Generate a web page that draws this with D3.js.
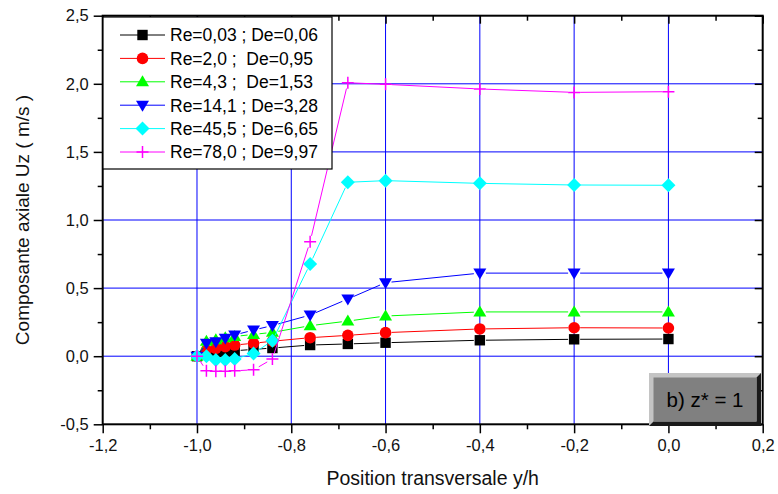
<!DOCTYPE html>
<html>
<head>
<meta charset="utf-8">
<script src="https://cdn.jsdelivr.net/npm/d3@7/dist/d3.min.js"></script>
<style>
  html, body { margin: 0; padding: 0; background: #fff; }
  svg { display: block; font-family: "Liberation Sans", Arial, sans-serif; }
  text { white-space: pre; }
</style>
</head>
<body>
<svg id="chart" width="778" height="494"></svg>
<script>
// Transverse positions y/h where the axial velocity was measured
const positions = [-1.0, -0.98, -0.96, -0.94, -0.92, -0.88, -0.84, -0.76, -0.68, -0.6, -0.4, -0.2, 0.0];

// Axial velocity Uz (m/s) for each flow regime
const uzRe003 = [0, 0.02, 0.03, 0.035, 0.04, 0.05, 0.06, 0.082, 0.09, 0.099, 0.117, 0.124, 0.126];
const uzRe20  = [0, 0.045, 0.058, 0.07, 0.082, 0.095, 0.11, 0.136, 0.153, 0.173, 0.2, 0.209, 0.207];
const uzRe43  = [0, 0.11, 0.12, 0.135, 0.145, 0.16, 0.175, 0.224, 0.258, 0.295, 0.325, 0.325, 0.325];
const uzRe141 = [0, 0.095, 0.107, 0.131, 0.156, 0.192, 0.225, 0.302, 0.42, 0.54, 0.61, 0.61, 0.61];
const uzRe455 = [0, 0.0, -0.028, -0.028, -0.02, 0.02, 0.114, 0.677, 1.277, 1.289, 1.269, 1.257, 1.255];
const uzRe780 = [0, -0.107, -0.11, -0.11, -0.107, -0.1, -0.02, 0.841, 2.008, 1.996, 1.962, 1.937, 1.942];

const seriesLabels = [
  "Re=0,03 ; De=0,06",
  "Re=2,0 ;  De=0,95",
  "Re=4,3 ;  De=1,53",
  "Re=14,1 ; De=3,28",
  "Re=45,5 ; De=6,65",
  "Re=78,0 ; De=9,97"
];
const seriesValues = [uzRe003, uzRe20, uzRe43, uzRe141, uzRe455, uzRe780];
const seriesColors = ["#000000", "#ff0000", "#00ff00", "#0000ff", "#00ffff", "#ff00ff"];
const seriesSymbols = ["square", "circle", "triangleUp", "triangleDown", "diamond", "plus"];

const xTicks = [-1.2, -1.0, -0.8, -0.6, -0.4, -0.2, 0.0, 0.2];
const yTicks = [-0.5, 0.0, 0.5, 1.0, 1.5, 2.0, 2.5];
const xGrid = [-1.0, -0.8, -0.6, -0.4, -0.2, 0.0];
const yGrid = [0.0, 0.5, 1.0, 1.5, 2.0];

const xTitle = "Position transversale y/h";
const yTitle = "Composante axiale Uz ( m/s )";
const panelLabel = "b) z* = 1";

const svg = d3.select("#chart");
const plotL = 102.7, plotR = 762.7, plotT = 15.7, plotB = 424.3;

const x = d3.scaleLinear().domain([-1.2, 0.2]).range([plotL, plotR]);
const y = d3.scaleLinear().domain([-0.5, 2.5]).range([plotB, plotT]);

const fmt = v => d3.format(".1f")(v).replace(".", ",").replace("\u2212", "-");

// grid
const grid = svg.append("g");
grid.selectAll("line.gx").data(xGrid).join("line")
  .attr("x1", d => x(d)).attr("x2", d => x(d))
  .attr("y1", plotT).attr("y2", plotB)
  .attr("stroke", "#0000ff").attr("stroke-width", 1);
grid.selectAll("line.gy").data(yGrid).join("line")
  .attr("x1", plotL).attr("x2", plotR)
  .attr("y1", d => y(d)).attr("y2", d => y(d))
  .attr("stroke", "#0000ff").attr("stroke-width", 1);

// axes with major + minor ticks
const xMinor = d3.range(-1.1, 0.2, 0.2);
const yMinor = d3.range(-0.25, 2.5, 0.5);

const axisStyle = g => {
  g.select(".domain").remove();
  g.selectAll("line").attr("stroke", "#000").attr("stroke-width", 1.5);
  g.selectAll("text").attr("fill", "#111").style("font-size", "16.5px");
};

svg.append("g").attr("transform", `translate(0,${plotB})`)
  .call(d3.axisBottom(x).tickValues(xTicks).tickFormat(fmt).tickSize(9).tickPadding(6))
  .call(axisStyle);
svg.append("g").attr("transform", `translate(0,${plotB})`)
  .call(d3.axisBottom(x).tickValues(xMinor).tickFormat("").tickSize(5))
  .call(axisStyle);
svg.append("g").attr("transform", `translate(${plotL},0)`)
  .call(d3.axisLeft(y).tickValues(yTicks).tickFormat(fmt).tickSize(9).tickPadding(5))
  .call(axisStyle);
svg.append("g").attr("transform", `translate(${plotL},0)`)
  .call(d3.axisLeft(y).tickValues(yMinor).tickFormat("").tickSize(5))
  .call(axisStyle);
// mirrored inner ticks on top and right
svg.append("g").attr("transform", `translate(0,${plotT})`)
  .call(d3.axisBottom(x).tickValues(xTicks).tickFormat("").tickSize(8)).call(axisStyle);
svg.append("g").attr("transform", `translate(0,${plotT})`)
  .call(d3.axisBottom(x).tickValues(xMinor).tickFormat("").tickSize(5)).call(axisStyle);
svg.append("g").attr("transform", `translate(${plotR},0)`)
  .call(d3.axisLeft(y).tickValues(yTicks).tickFormat("").tickSize(8)).call(axisStyle);
svg.append("g").attr("transform", `translate(${plotR},0)`)
  .call(d3.axisLeft(y).tickValues(yMinor).tickFormat("").tickSize(5)).call(axisStyle);

// frame
svg.append("rect")
  .attr("x", plotL).attr("y", plotT)
  .attr("width", plotR - plotL).attr("height", plotB - plotT)
  .attr("fill", "none").attr("stroke", "#000").attr("stroke-width", 2);

// symbol drawing
function drawSymbol(g, kind, cx, cy, color) {
  const s = 5.2;
  if (kind === "square") {
    g.append("rect").attr("x", cx - s).attr("y", cy - s).attr("width", 2 * s).attr("height", 2 * s)
      .attr("fill", color);
  } else if (kind === "circle") {
    g.append("circle").attr("cx", cx).attr("cy", cy).attr("r", s + 0.6).attr("fill", color);
  } else if (kind === "triangleUp") {
    g.append("path").attr("d", `M${cx},${cy - 6.5}L${cx + 6.5},${cy + 4.5}L${cx - 6.5},${cy + 4.5}Z`).attr("fill", color);
  } else if (kind === "triangleDown") {
    g.append("path").attr("d", `M${cx},${cy + 6.5}L${cx + 6.5},${cy - 4.5}L${cx - 6.5},${cy - 4.5}Z`).attr("fill", color);
  } else if (kind === "diamond") {
    g.append("path").attr("d", `M${cx},${cy - 7}L${cx + 7},${cy}L${cx},${cy + 7}L${cx - 7},${cy}Z`).attr("fill", color);
  } else if (kind === "plus") {
    g.append("path").attr("d", `M${cx - 6},${cy}H${cx + 6}M${cx},${cy - 6}V${cy + 6}`)
      .attr("stroke", color).attr("stroke-width", 1.5).attr("fill", "none");
  }
}

// series: line segments stop short of each symbol, then symbols on top
const gap = 6;
seriesValues.forEach((vals, i) => {
  const g = svg.append("g");
  const pts = positions.map((p, k) => [x(p), y(vals[k])]);
  for (let k = 0; k < pts.length - 1; k++) {
    const [x1, y1] = pts[k], [x2, y2] = pts[k + 1];
    const len = Math.hypot(x2 - x1, y2 - y1);
    if (len <= 2 * gap) continue;
    const ux = (x2 - x1) / len, uy = (y2 - y1) / len;
    g.append("line")
      .attr("x1", x1 + ux * gap).attr("y1", y1 + uy * gap)
      .attr("x2", x2 - ux * gap).attr("y2", y2 - uy * gap)
      .attr("stroke", seriesColors[i]).attr("stroke-width", 1);
  }
  pts.forEach(([px, py]) => drawSymbol(g, seriesSymbols[i], px, py, seriesColors[i]));
});

// legend
const legend = svg.append("g");
legend.append("rect")
  .attr("x", 103).attr("y", 17).attr("width", 229).attr("height", 152)
  .attr("fill", "#fff").attr("stroke", "#000").attr("stroke-width", 1.2);
seriesLabels.forEach((lab, i) => {
  const cy = 35 + i * 23.4;
  legend.append("line").attr("x1", 120).attr("x2", 165).attr("y1", cy).attr("y2", cy)
    .attr("stroke", seriesColors[i]).attr("stroke-width", 1);
  drawSymbol(legend, seriesSymbols[i], 142.5, cy, seriesColors[i]);
  legend.append("text").attr("x", 170).attr("y", cy).attr("dy", "0.36em")
    .style("font-size", "17.5px").attr("fill", "#000").text(lab);
});

// panel label box with bevel
const bx = 649, by = 373, bw = 112, bh = 53, bev = 4.5;
const box = svg.append("g");
box.append("rect").attr("x", bx).attr("y", by).attr("width", bw).attr("height", bh).attr("fill", "#c4c4c4");
box.append("path")
  .attr("d", `M${bx + bw},${by}L${bx + bw},${by + bh}L${bx},${by + bh}L${bx + bev},${by + bh - bev}L${bx + bw - bev},${by + bh - bev}L${bx + bw - bev},${by + bev}Z`)
  .attr("fill", "#1a1a1a");
box.append("rect").attr("x", bx + bev).attr("y", by + bev).attr("width", bw - 2 * bev).attr("height", bh - 2 * bev)
  .attr("fill", "#808080");
box.append("text").attr("x", bx + bw / 2).attr("y", by + bh / 2).attr("dy", "0.36em")
  .attr("text-anchor", "middle").style("font-size", "20.5px").attr("fill", "#000").text(panelLabel);

// axis titles
svg.append("text").attr("x", (plotL + plotR) / 2).attr("y", 478).attr("dy", "0.36em")
  .attr("text-anchor", "middle").style("font-size", "19.5px").attr("fill", "#111").text(xTitle);
svg.append("text").attr("transform", `translate(22,${(plotT + plotB) / 2}) rotate(-90)`)
  .attr("dy", "0.36em").attr("text-anchor", "middle").style("font-size", "19px").attr("fill", "#111").text(yTitle);
</script>
</body>
</html>
